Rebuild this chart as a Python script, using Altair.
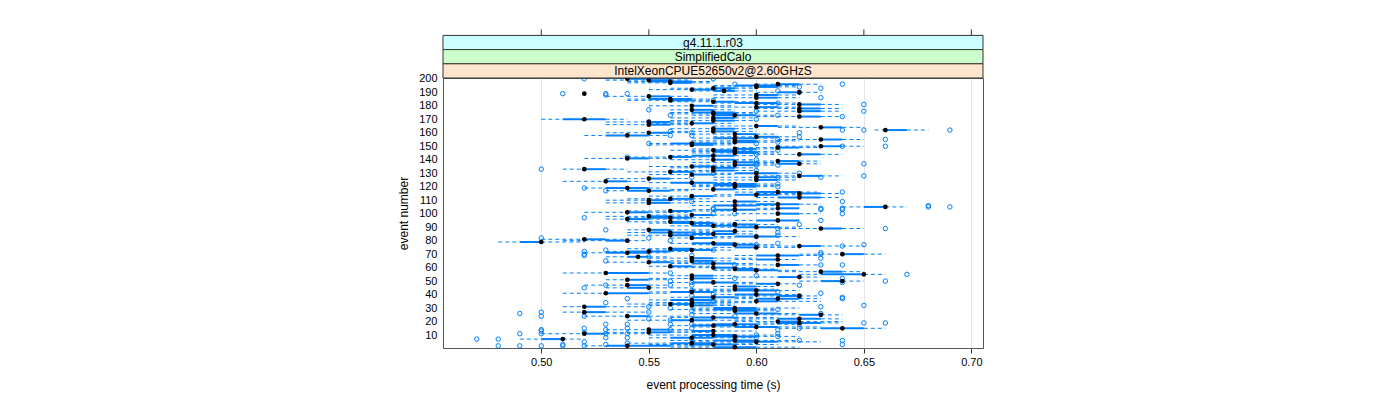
import altair as alt
import pandas as pd

# ---- data (times in hundredths of a second) ----
EVENTS = list(range(1, 201))
MED = [59,54,58,57,60,59,51,57,59,58,
       52,55,58,55,64,60,58,59,62,61,
       57,62,58,54,63,60,52,59,59,59,
       52,57,56,57,60,57,61,58,62,60,
       53,57,60,59,55,59,54,61,58,64,
       54,57,62,57,65,53,63,60,59,58,
       56,61,58,55,57,61,57,54.5,61,64,
       54,55,57,56,60,62,59,58,50,54,
       52,57,60,56,58,56,59,55,63,60,
       58,59,57,56,61,54,56,55,57,61,
       54,56,59,61,66,59,61,55,59,55,
       56,62,57,60,62,61,55,58,54,59,
       59,59,57,53,60,55,60,62,57,60,
       56,58,52,58,57,59,62,59,61,58,
       54,56,58,62,59,59,58,59,61,63,
       57,57,59,59,63,59,60,54,59,55,
       58,66,58,63,60,55,57,55,58,52,
       58,62,59,58,58,62,57,62,60,57,
       62,60,58,56,56,60,55,60,52,62,
       58.5,57,58,60,60,61,56,56,55,54]
Q1 = [58,53,57,56,59,58,50,56,58,57,
      52,55,57,55,63,59,57,58,61,61,
      56,61,57,54,62,59,52,59,58,58,
      52,57,56,57,60,56,60,57,61,59,
      53,56,59,59,54,59,54,60,57,63,
      54,57,61,57,63,53,63,59,59,58,
      56,61,57,55,57,60,57,54,60,64,
      53,54,56,56,59,62,58,57,49,53,
      52,57,59,56,57,55,58,55,63,59,
      57,59,56,56,60,54,55,55,57,61,
      54,56,58,61,65,58,60,55,59,55,
      56,61,57,59,62,60,54,58,53,59,
      58,58,56,53,60,55,60,62,57,59,
      56,58,52,58,57,59,61,59,61,58,
      54,56,57,62,59,58,58,59,61,63,
      57,56,59,59,63,58,60,53,59,55,
      58,66,58,63,60,55,57,55,58,51,
      58,62,58,58,57,62,57,62,60,57,
      62,59,58,56,55,60,55,60,52,61,
      58,57,58,60,59,61,56,55,55,54]
Q3 = [60,56,59,58,61,60,51,58,60,59,
      53,56,58,56,65,61,59,60,63,62,
      58,63,59,55,63,61,53,60,60,60,
      53,58,57,58,61,58,62,59,62,61,
      55,58,61,60,55,60,55,61,59,64,
      55,58,62,58,65,55,64,61,60,59,
      57,62,59,56,58,61,58,55,62,65,
      55,56,58,57,60,63,60,59,50,54,
      53,58,61,57,59,57,59,56,64,61,
      59,60,58,57,62,55,57,56,58,62,
      55,57,60,62,66,60,62,56,60,56,
      57,63,58,61,63,62,56,59,55,60,
      60,60,58,54,61,56,61,63,58,61,
      57,59,53,59,58,60,62,60,62,59,
      55,57,59,63,60,60,59,60,62,64,
      58,58,60,60,64,60,61,55,60,56,
      59,67,59,64,61,56,58,56,59,53,
      59,63,60,59,59,63,58,63,61,58,
      63,61,59,57,57,61,56,61,52,62,
      59,58,59,61,61,62,57,57,56,55]
LO = [56,52,55,54,57,56,49,55,57,55,
      50,53,56,53,61,57,56,57,60,59,
      54,59,56,52,60,57,51,57,56,57,
      51,55,54,55,58,55,59,56,59,58,
      51,55,57,57,53,58,52,59,56,62,
      53,55,59,56,62,51,61,58,58,56,
      55,59,56,53,55,59,55,53,59,62,
      52,53,55,54,58,60,57,56,48,51,
      50,56,58,54,56,54,57,54,61,58,
      56,57,55,54,59,53,54,53,55,59,
      52,54,57,60,64,57,59,53,57,53,
      54,60,55,58,60,59,53,56,52,57,
      57,57,55,51,58,53,58,60,55,58,
      54,56,51,56,55,57,60,57,59,56,
      52,54,56,60,57,57,56,57,59,61,
      55,55,57,57,61,57,58,52,57,53,
      56,65.5,56,61,58,53,55,53,56,50,
      56,60,57,56,56,60,56,60,58,55,
      60,58,56,54,54,58,53,58,52,60,
      57,55,56,58,58,60,54,54,53,53]
HI = [62,58,61,60,63,62,52,60,62,61,
      55,58,60,57,66,63,60,62,64,64,
      60,64,61,57,64,62,55,61,61,62,
      55,59,59,60,63,59,63,60,63,62,
      56,59,62,61,57,61,56,62,60,65,
      56,59,63,59,66,56,65,62,61,60,
      58,63,60,58,59,62,60,56,63,66,
      56,57,59,58,62,65,61,60,52,55,
      54,59,62,58,60,58,60,58,65,62,
      60,61,59,58,62,57,58,57,59,63,
      57,59,61,62,67,61,63,57,61,57,
      58,64,59,62,64,63,57,60,56,61,
      61,61,59,55,62,57,62,64,59,62,
      58,60,54,60,59,61,63,61,63,60,
      56,58,60,64,61,61,60,61,63,65,
      59,59,61,62,65,61,62,56,61,57,
      60,68,60,65,62,57,59,57,60,54,
      60,64,61,60,60,64,59,64,62,59,
      64,62,60,58,58,62,57,62,52,63,
      60,59,60,62,62,63,58,58,57,57]
OUTLIERS = [
    (200,52),(200,58),(196,59),(196,64),(194,62),(193,63),(191,61),(190,62),
    (189,51),(189,53),(188,53),(189,54),(186,63),(184,58),(182,61),(181,65),
    (177,55),(176,65),(176,60),(173,56),(173,61),(172,64),(170,60),(168,55),
    (161,56),(158,56),(152,55),(152,60),(144,60),(140,60),(137,60),(155,61),
    (153,61),(149,61),(147,61),(160,62),(157,62),(162,64),(162,65),(162,69),
    (150,64),(155,66),(150,66),(137,65),(142,54),(133,50),(160,57),(158,57),
    (127,57),(130,58),(136,60),(132,60),(136,61),(127,61),(130,62),(127,63),
    (128,65),(119,52),(117,53),(122,61),(120,61),(113,62),(116,64),(112,57),
    (109,57),(104,63),(109,64),(104,64),(105,68),(106,68),(105,69),(104,58),
    (97,52),(88,53),(103,58),(100,58),(100,59),(92,59),(103,63),(103,64),
    (100,64),(92,62),(95,63),(89,61),(86,61),(84,61),(89,66),(82,55),(80,56),
    (82,50),(83,60),(77,60),(78,61),(76,64),(77,65),(72,52),(69,52),(73,53),
    (69,57),(73,58),(70,63),
    (70,52),(65,53),(68,55),(56,56),(50,56),(47,56),(49,57),(47,57),(43,57),
    (39,57),(40,58),(62,59),(52,59),(54,60),(71,63),(67,63),(62,63),(62,64),
    (52,64),(49,64),(50,66),(55,67),(41,63),(37,64),(45,52),(47,53),(47,62),
    (39,62),(42,61),
    (34,53),(37,54),(35,58),(38,64),(26,49),(27,50),(24,50),(24,52),(31,55),
    (27,55),(22,55),(30,56),(21,56),(18,56),(14,56),(28,57),(25,57),(18,57),
    (15,57),(24,59),(29,61),(31,63),(26,63),(32,65),(19,65),(19,66),(18,62),
    (15,62),(14,61),(11,61),(14,50),(13,50),(11,50),(11,49),(15,52),(12,52),
    (18,53),(14,53),(11,53),(8,53),(18,54),(15,54),(11,54),(8,54),(7,47),
    (7,48),(2,48),(2,49),(2,50),(2,51),(3,51),(5,52),(2,52),(4,54),(3,57),
    (7,57),(4,57),(10,60),(8,60),(9,61),(6,62),(6,64),(7,59),(3,53),(3,64),
]
X_TICKS = [0.50, 0.55, 0.60, 0.65, 0.70]
Y_TICKS = list(range(10, 201, 10))
STRIP_LABELS = ["g4.11.1.r03", "SimplifiedCalo", "IntelXeonCPUE52650v2@2.60GHzS"]
STRIP_COLORS = ["#ccffff", "#ccffcc", "#ffe5cc"]

# ---- layout / style ----
W, H = 540, 270
STRIP_H = 14.2
BLUE = "#0080ff"
FONT = "Liberation Sans"

df = pd.DataFrame({
    "event": EVENTS,
    "med": [v / 100 for v in MED],
    "q1": [v / 100 for v in Q1],
    "q3": [v / 100 for v in Q3],
    "lo": [v / 100 for v in LO],
    "hi": [v / 100 for v in HI],
})
out_df = pd.DataFrame({"event": [e for e, _ in OUTLIERS],
                       "value": [v / 100 for _, v in OUTLIERS]})
tick_df = pd.DataFrame({"t": X_TICKS})

xs = alt.Scale(domain=[0.4543, 0.7054], nice=False, zero=False)
ys = alt.Scale(domain=[0.4, 200.6], nice=False, zero=False)

x_axis = alt.Axis(values=X_TICKS, format=".2f", tickSize=5, tickColor="#333",
                  labelFontSize=11, labelFont=FONT, labelColor="black",
                  labelPadding=3, labelOverlap=False, labelFlush=False,
                  grid=True, gridColor="#e6e6e6", domain=False,
                  title="event processing time (s)", titleFont=FONT,
                  titleFontSize=12, titleFontWeight="normal", titleColor="black",
                  titlePadding=12)
y_axis = alt.Axis(values=Y_TICKS, ticks=False, domain=False, grid=False,
                  labelFontSize=11, labelFont=FONT, labelColor="black",
                  labelPadding=6, labelOverlap=False, labelFlush=False,
                  labelBound=False,
                  title="event number", titleFont=FONT,
                  titleFontSize=12, titleFontWeight="normal", titleColor="black",
                  titlePadding=8)

base = alt.Chart(df)

outl = alt.Chart(out_df).mark_point(shape="circle", filled=False, color=BLUE,
                                     size=20, strokeWidth=1, opacity=1).encode(
    x=alt.X("value:Q", scale=xs, axis=x_axis),
    y=alt.Y("event:Q", scale=ys, axis=y_axis),
)
wlo = base.mark_rule(color=BLUE, strokeWidth=1, strokeDash=[4, 3]).encode(
    x=alt.X("lo:Q", scale=xs, axis=x_axis), x2="q1:Q",
    y=alt.Y("event:Q", scale=ys, axis=y_axis))
whi = base.mark_rule(color=BLUE, strokeWidth=1, strokeDash=[4, 3]).encode(
    x=alt.X("q3:Q", scale=xs, axis=x_axis), x2="hi:Q",
    y=alt.Y("event:Q", scale=ys, axis=y_axis))
box = base.mark_rule(color=BLUE, strokeWidth=2).encode(
    x=alt.X("q1:Q", scale=xs, axis=x_axis), x2="q3:Q",
    y=alt.Y("event:Q", scale=ys, axis=y_axis))
med = base.mark_point(shape="circle", filled=True, color="black", size=22,
                      opacity=1, strokeWidth=0).encode(
    x=alt.X("med:Q", scale=xs, axis=x_axis),
    y=alt.Y("event:Q", scale=ys, axis=y_axis))

top_ticks = alt.Chart(tick_df).mark_rule(color="#333", strokeWidth=1).encode(
    x=alt.X("t:Q", scale=xs, axis=x_axis),
    y=alt.value(-3 * STRIP_H - 6), y2=alt.value(-3 * STRIP_H))

strips = []
for i, (lab, col) in enumerate(zip(STRIP_LABELS, STRIP_COLORS)):
    top = -(3 - i) * STRIP_H
    sdf = pd.DataFrame({"label": [lab]})
    strips.append(alt.Chart(sdf).mark_rect(fill=col, stroke="#333", strokeWidth=1).encode(
        x=alt.value(0), x2=alt.value(W), y=alt.value(top), y2=alt.value(top + STRIP_H)))
    strips.append(alt.Chart(sdf).mark_text(font=FONT, fontSize=12, color="black",
                                           baseline="middle", align="center").encode(
        x=alt.value(W / 2), y=alt.value(top + STRIP_H / 2 + 0.5), text="label:N"))

chart = alt.layer(outl, wlo, whi, box, med, top_ticks, *strips).properties(
    width=W, height=H,
    autosize=alt.AutoSizeParams(type="none"),
    padding={"left": 435, "top": 70, "right": 20, "bottom": 50},
).configure_view(stroke="#555", strokeWidth=1).configure_axis(labelOverlap=False)

chart.save("out.html", embed_options={"renderer": "svg", "actions": False})
